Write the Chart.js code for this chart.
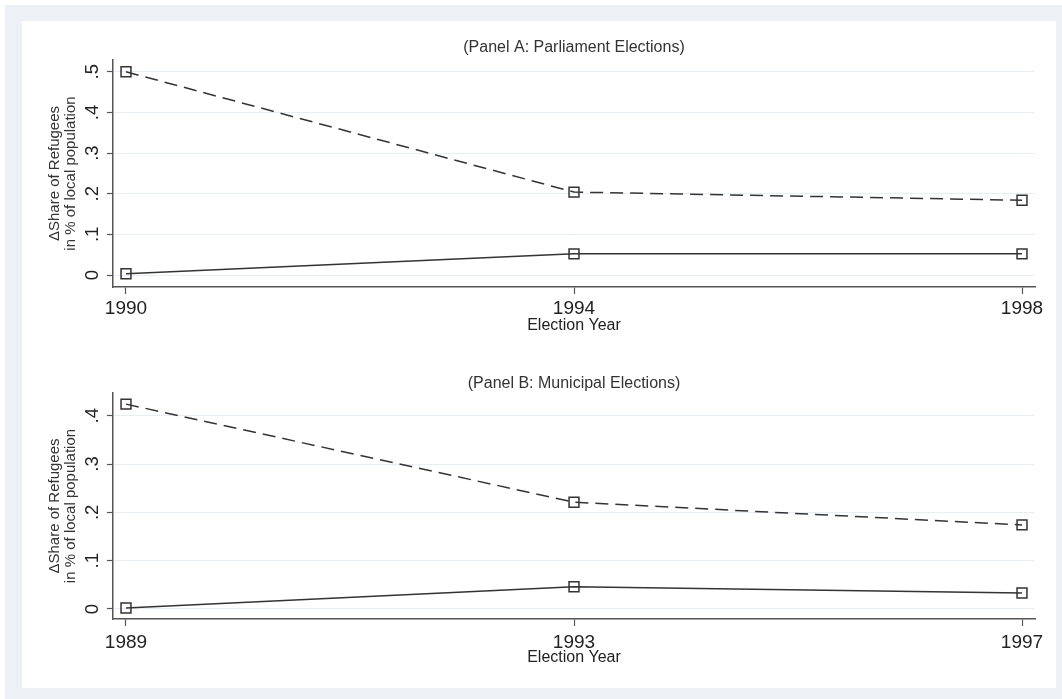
<!DOCTYPE html>
<html>
<head>
<meta charset="utf-8">
<script src="https://cdn.jsdelivr.net/npm/chart.js@4.4.1/dist/chart.umd.min.js"></script>
<style>
  html, body { margin: 0; padding: 0; background: #fff; width: 1062px; height: 699px; overflow: hidden; }
  #frame { position: absolute; left: 5px; top: 5px; width: 1057px; height: 694px; background: #edf0f5; }
  #sheet { position: absolute; left: 22px; top: 21px; width: 1034px; height: 667px; background: #fff; }
  canvas { position: absolute; left: 0; }
  #panelA { top: 0; }
  #panelB { top: 345px; }
</style>
</head>
<body>
<div id="frame"></div>
<div id="sheet"></div>
<canvas id="panelA" width="1062" height="345"></canvas>
<canvas id="panelB" width="1062" height="354"></canvas>
<script>
// Panel A: parliament elections
const parliamentYears = [1990, 1994, 1998];
const parliamentDashed = [0.500, 0.204, 0.184];
const parliamentSolid = [0.003, 0.052, 0.052];
const parliamentTicks = [0, 0.1, 0.2, 0.3, 0.4, 0.5];
const parliamentTickLabels = ['0', '.1', '.2', '.3', '.4', '.5'];

// Panel B: municipal elections
const municipalYears = [1989, 1993, 1997];
const municipalDashed = [0.424, 0.221, 0.174];
const municipalSolid = [0.002, 0.046, 0.033];
const municipalTicks = [0, 0.1, 0.2, 0.3, 0.4];
const municipalTickLabels = ['0', '.1', '.2', '.3', '.4'];

const yTitle = ['\u0394Share of Refugees', 'in % of local population'];
const xTitle = 'Election Year';

const FONT = '"Liberation Sans", Arial, Helvetica, sans-serif';
const INK = '#222';
const AXIS = '#555';

// Vertical tick labels, turned 90 degrees like the axis title
const rotatedYLabels = {
  id: 'rotatedYLabels',
  afterDraw(chart, args, opts) {
    const s = chart.scales.y;
    const ctx = chart.ctx;
    ctx.save();
    ctx.font = '18.5px ' + FONT;
    ctx.fillStyle = INK;
    ctx.textAlign = 'center';
    ctx.textBaseline = 'alphabetic';
    opts.values.forEach((v, i) => {
      const y = s.getPixelForValue(v);
      ctx.save();
      ctx.translate(s.right - 15, y);
      ctx.rotate(-Math.PI / 2);
      ctx.fillText(opts.labels[i], 0, 0);
      ctx.restore();
    });
    ctx.restore();
  }
};

function series(years, values) {
  return years.map((yr, i) => ({ x: yr, y: values[i] }));
}

function makePanel(id, p) {
  const common = {
    borderColor: '#333',
    borderWidth: 1.5,
    pointStyle: 'rect',
    pointRadius: 7,
    pointBorderWidth: 1.5,
    pointBorderColor: '#333',
    pointBackgroundColor: 'rgba(0,0,0,0)',
    fill: false,
    tension: 0
  };
  return new Chart(document.getElementById(id), {
    type: 'line',
    data: {
      datasets: [
        Object.assign({ label: 'Group 1', data: series(p.years, p.dashed), borderDash: [13, 7] }, common),
        Object.assign({ label: 'Group 2', data: series(p.years, p.solid) }, common)
      ]
    },
    plugins: [rotatedYLabels],
    options: {
      responsive: false,
      animation: false,
      events: [],
      layout: { padding: { left: 40, right: 27, top: p.padTop, bottom: p.padBottom } },
      plugins: {
        legend: { display: false },
        tooltip: { enabled: false },
        title: {
          display: true,
          fullSize: false,
          text: p.title,
          color: '#333',
          font: { family: FONT, size: 16, weight: 'normal', lineHeight: 1.2 },
          padding: { top: 0, bottom: p.titleGap }
        },
        rotatedYLabels: { values: p.ticks, labels: p.tickLabels }
      },
      scales: {
        x: {
          type: 'linear',
          min: p.years[0] - 0.116,
          max: p.years[p.years.length - 1] + 0.116,
          afterBuildTicks: s => { s.ticks = p.years.map(v => ({ value: v })); },
          afterFit: s => { s.height = 50; },
          ticks: {
            color: INK,
            font: { family: FONT, size: 19 },
            padding: p.xPad,
            maxRotation: 0,
            autoSkip: false,
            callback: v => String(v)
          },
          grid: { drawOnChartArea: false, drawTicks: true, tickLength: 7, tickColor: AXIS, tickWidth: 1.2 },
          border: { display: true, color: AXIS, width: 1.5 },
          title: {
            display: true,
            text: xTitle,
            color: INK,
            font: { family: FONT, size: 16, lineHeight: 1.2 },
            padding: { top: 0, bottom: 2 }
          }
        },
        y: {
          type: 'linear',
          min: p.yMin,
          max: p.yMax,
          afterBuildTicks: s => { s.ticks = p.ticks.map(v => ({ value: v })); },
          afterFit: s => { s.width = 73; },
          ticks: { display: false },
          grid: { color: '#e9eef6', lineWidth: 1, drawTicks: true, tickLength: 6, tickColor: AXIS, tickWidth: 1.2 },
          border: { display: true, color: AXIS, width: 1.5 },
          title: {
            display: true,
            text: yTitle,
            color: '#333',
            font: { family: FONT, size: 15, lineHeight: 1.05 },
            padding: { top: 7, bottom: 0 }
          }
        }
      }
    }
  });
}

makePanel('panelA', {
  title: '(Panel A: Parliament Elections)',
  years: parliamentYears, dashed: parliamentDashed, solid: parliamentSolid,
  ticks: parliamentTicks, tickLabels: parliamentTickLabels,
  yMin: -0.0295, yMax: 0.529,
  padTop: 38.4, titleGap: 2.4, padBottom: 8, xPad: 3
});

makePanel('panelB', {
  title: '(Panel B: Municipal Elections)',
  years: municipalYears, dashed: municipalDashed, solid: municipalSolid,
  ticks: municipalTicks, tickLabels: municipalTickLabels,
  yMin: -0.0207, yMax: 0.447,
  padTop: 28.8, titleGap: 0, padBottom: 30, xPad: 5
});
</script>
</body>
</html>
